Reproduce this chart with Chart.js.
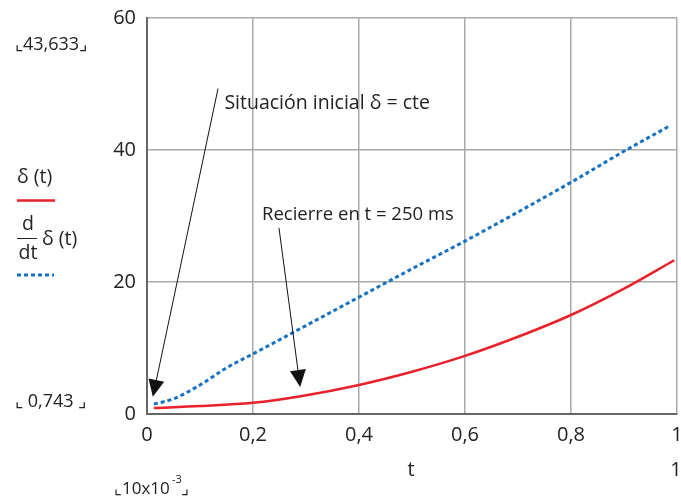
<!DOCTYPE html>
<html>
<head>
<meta charset="utf-8">
<script src="https://cdn.jsdelivr.net/npm/chart.js@4/dist/chart.umd.min.js"></script>
<style>
  body { margin: 0; background: #fff; }
  #wrap { width: 681px; height: 500px; }
</style>
</head>
<body>
<div id="wrap"><canvas id="grafico" width="681" height="500"></canvas></div>
<script>
// tiempo (x) y valores
const tDelta = [0.013, 0.1, 0.2, 0.29, 0.4, 0.5, 0.6, 0.7, 0.8, 0.9, 0.995];
const delta = [0.9, 1.2, 1.7, 2.7, 4.4, 6.4, 8.8, 11.7, 15.0, 19.0, 23.3];

const tDeriv = [0.013, 0.05, 0.1, 0.15, 0.2, 0.3, 0.4, 0.5, 0.6, 0.7, 0.8, 0.9, 0.985];
const deriv = [1.5, 2.3, 4.4, 7.0, 9.1, 13.4, 17.7, 22.0, 26.2, 30.6, 35.1, 39.8, 43.6];

const xTicks = [0, 0.2, 0.4, 0.6, 0.8, 1];
const yTicks = [0, 20, 40, 60];

// anotaciones (en unidades de datos)
const notas = [
  { texto: "Situación inicial δ = cte", x: 0.146, y: 47.0, desde: [0.134, 49.3], hasta: [0.011, 2.6] },
  { texto: "Recierre en t = 250 ms", x: 0.217, y: 30.2, desde: [0.249, 28.2], hasta: [0.289, 4.1] }
];

const fuente = "'Open Sans', 'Noto Sans', sans-serif";
const rojo = "#e8212b";
const azul = "#1572c2";

function coma(v) {
  return String(v).replace(".", ",");
}

function flecha(ctx, x1, y1, x2, y2) {
  const ang = Math.atan2(y2 - y1, x2 - x1);
  const largo = 17, ancho = 8;
  ctx.strokeStyle = "#111";
  ctx.lineWidth = 1;
  ctx.beginPath();
  ctx.moveTo(x1, y1);
  ctx.lineTo(x2 - Math.cos(ang) * largo, y2 - Math.sin(ang) * largo);
  ctx.stroke();
  ctx.fillStyle = "#111";
  ctx.beginPath();
  ctx.moveTo(x2, y2);
  ctx.lineTo(x2 - Math.cos(ang) * largo - Math.sin(ang) * ancho, y2 - Math.sin(ang) * largo + Math.cos(ang) * ancho);
  ctx.lineTo(x2 - Math.cos(ang) * largo + Math.sin(ang) * ancho, y2 - Math.sin(ang) * largo - Math.cos(ang) * ancho);
  ctx.closePath();
  ctx.fill();
}

// textos y flechas extra
const extras = {
  id: "extras",
  afterDraw(chart) {
    const ctx = chart.ctx;
    const sx = chart.scales.x, sy = chart.scales.y;
    ctx.save();
    ctx.fillStyle = "#222";
    ctx.textBaseline = "middle";
    ctx.textAlign = "left";

    // anotaciones
    notas.forEach((n, i) => {
      ctx.font = (i === 0 ? "19.5px " : "18.5px ") + fuente;
      ctx.fillStyle = "#222";
      ctx.fillText(n.texto, sx.getPixelForValue(n.x), sy.getPixelForValue(n.y));
      flecha(ctx, sx.getPixelForValue(n.desde[0]), sy.getPixelForValue(n.desde[1]),
        sx.getPixelForValue(n.hasta[0]), sy.getPixelForValue(n.hasta[1]));
    });

    // leyenda a la izquierda
    ctx.fillStyle = "#222";
    ctx.font = "18px " + fuente;
    ctx.fillText("⌞43,633⌟", 15, 45);
    ctx.fillText("⌞ 0,743 ⌟", 15, 402);
    ctx.font = "19.5px " + fuente;
    ctx.fillText("δ (t)", 17, 177);
    ctx.strokeStyle = rojo;
    ctx.lineWidth = 2.5;
    ctx.beginPath();
    ctx.moveTo(17, 200.5);
    ctx.lineTo(55, 200.5);
    ctx.stroke();

    ctx.textAlign = "center";
    ctx.fillText("d", 28, 224);
    ctx.fillText("dt", 28, 253);
    ctx.strokeStyle = "#222";
    ctx.lineWidth = 1;
    ctx.beginPath();
    ctx.moveTo(17, 238.5);
    ctx.lineTo(37, 238.5);
    ctx.stroke();
    ctx.textAlign = "left";
    ctx.fillText("δ (t)", 42, 239);
    ctx.strokeStyle = azul;
    ctx.lineWidth = 3;
    ctx.setLineDash([4, 3]);
    ctx.beginPath();
    ctx.moveTo(17, 275);
    ctx.lineTo(54, 275);
    ctx.stroke();
    ctx.setLineDash([]);

    // textos inferiores
    ctx.font = "20px " + fuente;
    ctx.textAlign = "center";
    ctx.fillText("t", 411, 470);
    ctx.fillText("1", 676, 470);
    ctx.textAlign = "left";
    ctx.font = "17px " + fuente;
    ctx.fillText("⌞10x10", 114, 489);
    ctx.font = "11px " + fuente;
    ctx.fillText("-3", 172, 480);
    ctx.font = "17px " + fuente;
    ctx.fillText("⌟", 181, 489);
    ctx.restore();
  }
};

const ctx = document.getElementById("grafico").getContext("2d");

new Chart(ctx, {
  type: "line",
  data: {
    datasets: [
      {
        label: "d/dt δ(t)",
        data: tDeriv.map((t, i) => ({ x: t, y: deriv[i] })),
        borderColor: azul,
        borderWidth: 3,
        borderDash: [4, 3],
        pointRadius: 0,
        cubicInterpolationMode: "monotone"
      },
      {
        label: "δ(t)",
        data: tDelta.map((t, i) => ({ x: t, y: delta[i] })),
        borderColor: rojo,
        borderWidth: 2.5,
        pointRadius: 0,
        cubicInterpolationMode: "monotone"
      }
    ]
  },
  options: {
    responsive: false,
    animation: false,
    layout: { padding: { left: 0, top: 18, right: 4, bottom: 0 } },
    plugins: {
      legend: { display: false },
      tooltip: { enabled: false }
    },
    scales: {
      x: {
        type: "linear",
        min: 0,
        max: 1,
        afterFit: s => { s.height = 86; s.paddingLeft = 0; s.paddingRight = 0; },
        afterBuildTicks: s => { s.ticks = xTicks.map(v => ({ value: v })); },
        ticks: {
          padding: 9,
          color: "#222",
          font: { family: fuente, size: 20 },
          callback: v => coma(v),
          maxRotation: 0
        },
        grid: { color: "#aaa", lineWidth: 1.5, drawTicks: false },
        border: { color: "#666", width: 2 }
      },
      y: {
        min: 0,
        max: 60,
        afterFit: s => { s.width = 147; s.paddingTop = 0; s.paddingBottom = 0; },
        afterBuildTicks: s => { s.ticks = yTicks.map(v => ({ value: v })); },
        ticks: {
          padding: 11,
          color: "#222",
          font: { family: fuente, size: 20 }
        },
        grid: { color: "#aaa", lineWidth: 1.5, drawTicks: false },
        border: { color: "#666", width: 2 }
      }
    }
  },
  plugins: [extras]
});
</script>
</body>
</html>
